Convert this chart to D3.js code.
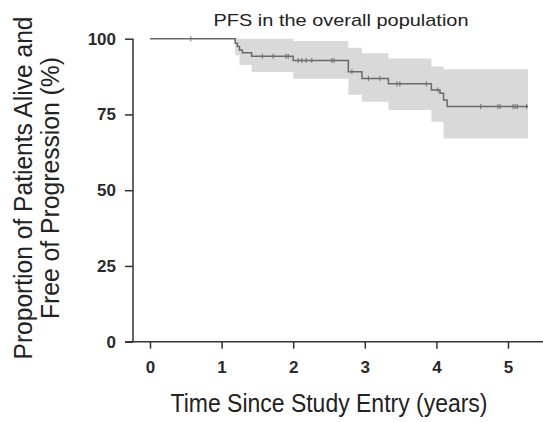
<!DOCTYPE html>
<html>
<head>
<meta charset="utf-8">
<script src="https://cdn.jsdelivr.net/npm/d3@7"></script>
<style>
  html, body { margin: 0; padding: 0; background: #fff; }
  svg { display: block; }
</style>
</head>
<body>
<svg id="chart" width="543" height="422"></svg>
<script>
// Kaplan-Meier estimate of progression-free survival, overall population
const eventTimes = [0, 1.19, 1.22, 1.25, 1.29, 1.42, 2.00, 2.77, 2.96, 3.33, 3.93, 4.05, 4.10, 4.15];
const survival   = [100, 98.5, 97.4, 96.3, 95.4, 94.2, 92.8, 89.1, 86.9, 85.1, 83.1, 82.0, 79.8, 77.6];
const ciLower    = [100, 94.5, 94.5, 91.3, 91.3, 89.0, 86.8, 81.5, 79.2, 76.5, 72.6, 72.6, 67.1, 67.1];
const ciUpper    = [100, 100, 100, 100, 100, 100, 99.2, 97.0, 95.2, 93.5, 90.8, 90.8, 89.9, 89.9];
const followUpEnd = 5.28;
const censorTimes = [0.57, 1.57, 1.72, 1.90, 1.93, 2.07, 2.12, 2.18, 2.26, 2.54, 2.57, 2.82,
                     3.05, 3.21, 3.45, 3.49, 3.86, 4.02, 4.62, 4.86, 4.89, 5.07, 5.10, 5.13, 5.26];
const xTicks = [0, 1, 2, 3, 4, 5];
const yTicks = [0, 25, 50, 75, 100];

const svg = d3.select("#chart");
const x = d3.scaleLinear().domain([0, 5]).range([150, 508]);
const y = d3.scaleLinear().domain([0, 100]).range([341.7, 38.7]);

const rows = eventTimes.map((t, i) => ({ t, s: survival[i], lo: ciLower[i], hi: ciUpper[i] }));
rows.push({ t: followUpEnd, s: survival[survival.length - 1],
            lo: ciLower[ciLower.length - 1], hi: ciUpper[ciUpper.length - 1] });

// confidence band
svg.append("path")
  .datum(rows.slice(1))
  .attr("fill", "#d9d9d9")
  .attr("d", d3.area().curve(d3.curveStepAfter)
    .x(d => x(d.t)).y0(d => y(d.lo)).y1(d => y(d.hi)));

// survival curve
svg.append("path")
  .datum(rows)
  .attr("fill", "none")
  .attr("stroke", "#6a6a6a")
  .attr("stroke-width", 1.5)
  .attr("d", d3.line().curve(d3.curveStepAfter).x(d => x(d.t)).y(d => y(d.s)));

// censoring marks
const survAt = t => survival[d3.bisectRight(eventTimes, t) - 1];
svg.append("g").selectAll("line")
  .data(censorTimes)
  .join("line")
  .attr("x1", d => x(d)).attr("x2", d => x(d))
  .attr("y1", d => y(survAt(d)) - 2.5).attr("y2", d => y(survAt(d)) + 2.5)
  .attr("stroke", "#6a6a6a").attr("stroke-width", 1);

// axes
const axisColor = "#333";
const xAxis = svg.append("g").attr("transform", "translate(0,341.7)")
  .call(d3.axisBottom(x).tickValues(xTicks).tickFormat(d3.format("d"))
    .tickSize(7).tickSizeOuter(0).tickPadding(12));
const yAxis = svg.append("g").attr("transform", "translate(133,0)")
  .call(d3.axisLeft(y).tickValues(yTicks).tickSize(8).tickSizeOuter(0).tickPadding(9));
[xAxis, yAxis].forEach(g => {
  g.select(".domain").remove();
  g.selectAll(".tick line").attr("stroke", axisColor).attr("stroke-width", 1.5);
  g.selectAll(".tick text")
    .attr("fill", "#2a2a2a")
    .style("font-family", "'Liberation Sans', Arial, sans-serif")
    .style("font-size", "17px")
    .style("font-weight", "bold");
});
svg.append("line").attr("x1", 133).attr("x2", 133).attr("y1", y(100)).attr("y2", y(0))
  .attr("stroke", axisColor).attr("stroke-width", 1.5);
svg.append("line").attr("x1", 125).attr("x2", 543).attr("y1", y(0)).attr("y2", y(0))
  .attr("stroke", axisColor).attr("stroke-width", 1.5);

// title
svg.append("text")
  .attr("x", 341).attr("y", 26)
  .attr("text-anchor", "middle")
  .attr("fill", "#222")
  .style("font-family", "'Liberation Sans', Arial, sans-serif")
  .style("font-size", "17px")
  .attr("textLength", 255).attr("lengthAdjust", "spacingAndGlyphs")
  .text("PFS in the overall population");

// axis titles
const labelFont = "'Liberation Sans Narrow', 'Liberation Sans', Arial, sans-serif";
const yLabel = svg.append("text")
  .attr("transform", "translate(0,188) rotate(-90)")
  .attr("text-anchor", "middle")
  .attr("fill", "#222")
  .style("font-family", labelFont)
  .style("font-size", "25px");
yLabel.append("tspan").attr("x", 0).attr("y", 32)
  .attr("textLength", 343).attr("lengthAdjust", "spacingAndGlyphs")
  .text("Proportion of Patients Alive and");
yLabel.append("tspan").attr("x", 0).attr("y", 59)
  .attr("textLength", 262).attr("lengthAdjust", "spacingAndGlyphs")
  .text("Free of Progression (%)");

svg.append("text")
  .attr("x", 329).attr("y", 412)
  .attr("text-anchor", "middle")
  .attr("fill", "#222")
  .style("font-family", labelFont)
  .style("font-size", "25px")
  .attr("textLength", 317).attr("lengthAdjust", "spacingAndGlyphs")
  .text("Time Since Study Entry (years)");
</script>
</body>
</html>
